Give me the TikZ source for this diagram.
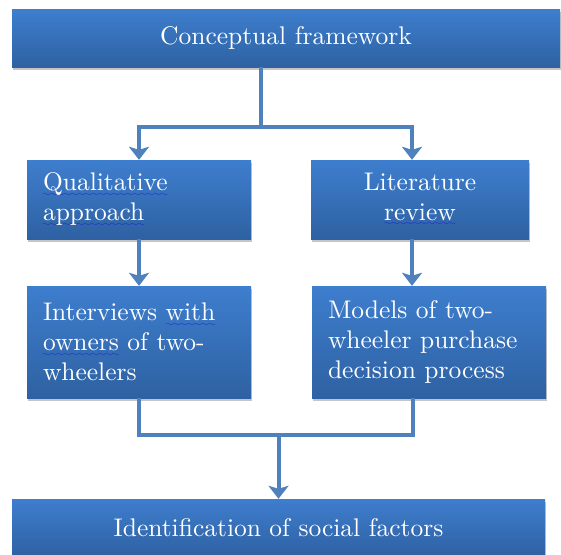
\documentclass[tikz,border=0pt]{standalone}
\usepackage{fontspec}
\setmainfont{lmroman10-regular.otf}
\usetikzlibrary{shadows,arrows.meta}
\definecolor{boxtop}{RGB}{62,126,206}
\definecolor{boxbot}{RGB}{46,97,162}
\definecolor{connc}{RGB}{79,129,189}
\definecolor{squigc}{RGB}{30,30,210}
\font\squigfont=lasy6 at 8pt
\newcommand\squig[1]{\setbox0\hbox{#1}\leavevmode\rlap{\textcolor{squigc}{\lower5.5pt\hbox to\wd0{\xleaders\hbox{\squigfont\char58}\hfill}}}\box0\relax}
\begin{document}
\begin{tikzpicture}[x=1pt,y=-1pt,
  box/.style={draw=none, top color=boxtop, bottom color=boxbot, text=white,
    inner sep=0pt, font=\fontsize{25.5}{30}\selectfont,
    drop shadow={shadow xshift=1pt,shadow yshift=-3pt,fill=black!45,opacity=0.5}},
  leftbox/.style={box, align=left, inner xsep=16pt},
  conn/.style={draw=connc, line width=4pt},
  arr/.style={conn, -{Stealth[length=13pt,width=20pt,inset=3pt]}}]
\useasboundingbox (0,0) rectangle (561,554);
\fill[white] (0,0) rectangle (561,554);

\node[box, minimum width=548pt, minimum height=58pt] (top) at (286,38) {Conceptual framework};
\node[leftbox, text width=192pt, minimum height=79pt] (qual) at (139,199.5)
  {\squig{Qualitative}\\\squig{approach}};
\node[box, align=center, minimum width=218pt, minimum height=79pt] (lit) at (420,199.5)
  {Literature\\\squig{review}};
\node[leftbox, text width=192pt, minimum height=112pt] (intv) at (139,342)
  {Interviews \squig{with}\\\squig{owners} of two-\\wheelers};
\node[leftbox, text width=202pt, minimum height=112pt] (models) at (429,342)
  {Models of two-\\wheeler purchase\\decision process};
\node[box, minimum width=533pt, minimum height=57pt] (bottom) at (278.5,527.5)
  {Identification of social factors};

\coordinate (j1) at (261,127);
\coordinate (j2) at (278.5,435);

\draw[conn] (top.south -| j1) -- (j1);
\draw[arr] (j1) -| (qual.north);
\draw[arr] (j1) -| ([xshift=-8pt]lit.north);
\draw[arr] (qual.south) -- (intv.north);
\draw[arr] ([xshift=-8pt]lit.south) -- ([xshift=-17pt]models.north);
\draw[conn] (intv.south) |- (j2) -| ([xshift=-16pt]models.south);
\draw[arr] (j2) -- (bottom.north);
\end{tikzpicture}
\end{document}
